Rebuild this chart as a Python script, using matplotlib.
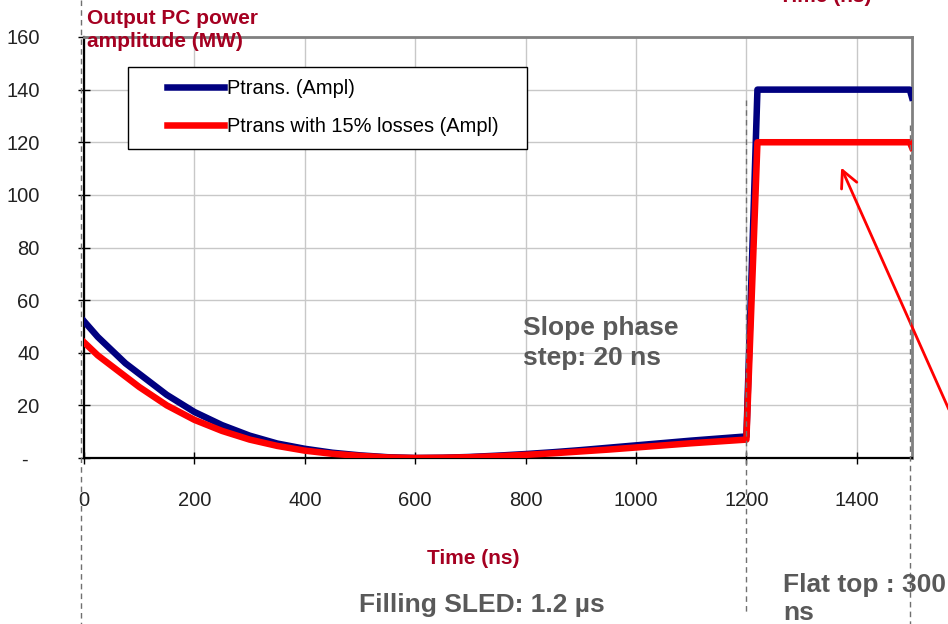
import numpy as np
import matplotlib
matplotlib.use("Agg")
import matplotlib.pyplot as plt
from matplotlib.lines import Line2D
from matplotlib.patches import FancyArrowPatch
from matplotlib.legend_handler import HandlerLine2D

plt.rcParams["font.family"] = ["Liberation Sans", "DejaVu Sans"]

# data (ns, MW)
time_ns = [0, 25, 50, 75, 100, 150, 200, 250, 300, 350, 400, 450, 500, 550, 600,
           650, 700, 750, 800, 850, 900, 950, 1000, 1050, 1100, 1150, 1200,
           1220, 1496, 1500]
p_trans = [52, 46, 41, 36, 32, 24, 17.5, 12.5, 8.5, 5.5, 3.5, 2, 1, 0.3, 0,
           0.1, 0.4, 0.9, 1.5, 2.2, 3, 3.9, 4.8, 5.7, 6.6, 7.4, 8.2,
           140, 140, 137]
p_loss = [44, 39, 35, 31, 27, 20, 14.5, 10.3, 7, 4.6, 2.8, 1.6, 0.8, 0.2, 0,
          0.1, 0.3, 0.7, 1.2, 1.8, 2.5, 3.2, 4, 4.8, 5.6, 6.3, 7,
          120, 120, 118]

yticks = [0, 20, 40, 60, 80, 100, 120, 140, 160]
ylabels = ["-  ", "20", "40", "60", "80", "100", "120", "140", "160"]
xticks = [0, 200, 400, 600, 800, 1000, 1200, 1400]

DARKRED = "#A50021"
GRAY = "#595959"

W, H = 948, 624
fig = plt.figure(figsize=(W / 100, H / 100), dpi=100)

def fx(px):
    return px / W

def fy(py):
    return 1 - py / H

ax = fig.add_axes([fx(84), fy(458), fx(912) - fx(84), fy(37) - fy(458)])
ax.plot(time_ns, p_trans, color="#000080", lw=4.7, solid_joinstyle="round",
        label="Ptrans. (Ampl)", zorder=3)
ax.plot(time_ns, p_loss, color="#FF0000", lw=4.7, solid_joinstyle="round",
        label="Ptrans with 15% losses (Ampl)", zorder=4)

ax.set_xlim(0, 1500)
ax.set_ylim(0, 160)
ax.set_xticks(xticks)
ax.set_yticks(yticks)
ax.set_yticklabels(ylabels)
ax.grid(True, color="#C8C8C8", lw=1)
ax.set_axisbelow(True)
ax.tick_params(axis="both", direction="inout", length=8, width=1,
               labelsize=14.5, colors="black")
ax.tick_params(axis="x", pad=20)
ax.tick_params(axis="y", pad=28)
for lab in ax.get_xticklabels() + ax.get_yticklabels():
    lab.set_color("#222222")
for side in ("top", "right"):
    ax.spines[side].set_color("#808080")
    ax.spines[side].set_linewidth(2)
for side in ("left", "bottom"):
    ax.spines[side].set_color("black")
    ax.spines[side].set_linewidth(1.6)

leg = ax.legend(loc="upper left",
                bbox_to_anchor=(fx(128), fy(146), fx(527) - fx(128), fy(67) - fy(146)),
                bbox_transform=fig.transFigure, mode="expand", fontsize=14.4,
                handlelength=4.2, handletextpad=0.15, borderpad=0.62,
                labelspacing=0.95, borderaxespad=0, fancybox=False,
                framealpha=1, edgecolor="black",
                handler_map={Line2D: HandlerLine2D(xpad=1.35)})
leg.get_frame().set_linewidth(1)

# dashed guide lines (figure level)
for x0, y0, y1 in [(81, 0, 624), (746, 100, 612), (910, 125, 624)]:
    fig.add_artist(Line2D([fx(x0), fx(x0)], [fy(y0), fy(y1)],
                          color="#707070", lw=1, ls=(0, (4, 3))))

fig.text(fx(87), fy(30), "Output PC power\namplitude (MW)", color=DARKRED,
         fontsize=15, fontweight="bold", ha="left", va="center",
         linespacing=1.3)
fig.text(fx(825), fy(-4), "Time (ns)", color=DARKRED, fontsize=15,
         fontweight="bold", ha="center", va="center")
fig.text(fx(473), fy(558), "Time (ns)", color=DARKRED, fontsize=15,
         fontweight="bold", ha="center", va="center")
fig.text(fx(523), fy(343), "Slope phase\nstep: 20 ns", color=GRAY,
         fontsize=19, fontweight="bold", ha="left", va="center",
         linespacing=1.33)
fig.text(fx(482), fy(605), "Filling SLED: 1.2 µs", color=GRAY,
         fontsize=19, fontweight="bold", ha="center", va="center")
fig.text(fx(783), fy(599), "Flat top : 300\nns", color=GRAY,
         fontsize=19, fontweight="bold", ha="left", va="center",
         linespacing=1.2)

arrow = FancyArrowPatch((fx(950), fy(412)), (fx(840), fy(165)),
                        transform=fig.transFigure,
                        arrowstyle="->,head_length=12,head_width=6",
                        color="#FF0000", lw=2, mutation_scale=1)
fig.add_artist(arrow)

fig.savefig("out.png", dpi=100)
